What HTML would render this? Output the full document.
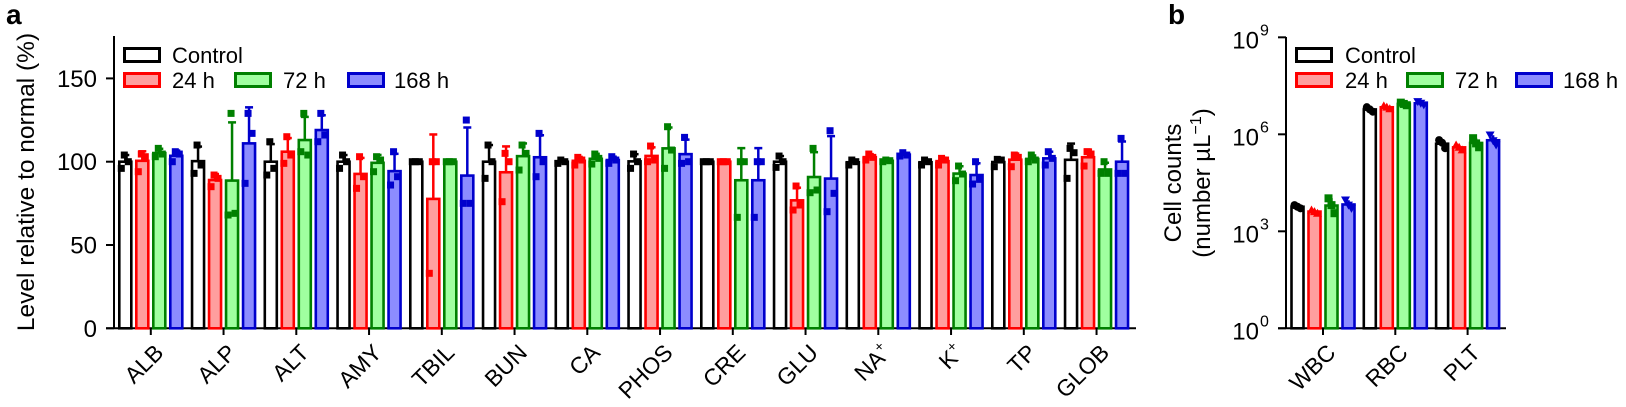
<!DOCTYPE html>
<html><head><meta charset="utf-8"><style>
html,body{margin:0;padding:0;background:#fff;}
svg{display:block;font-family:"Liberation Sans",Arial,sans-serif;}
</style></head><body>
<svg id="fig" width="1626" height="407" viewBox="0 0 1626 407" xmlns="http://www.w3.org/2000/svg">
<text x="6" y="24" font-size="28" font-weight="bold">a</text>
<text x="1168" y="24" font-size="28" font-weight="bold">b</text>
<g id="pa"></g>
<g id="pb"></g>
</svg>
<script>
// ---------- Panel a data ----------
const catsA = ["ALB","ALP","ALT","AMY","TBIL","BUN","CA","PHOS","CRE","GLU","NA+","K+","TP","GLOB"];
const ptsControl = [[104,100,96],[110,98,93],[112,96,92],[104,100,96],[100,100,100],[110,100,90],[101,100,99],[104.6,100,96],[100,100,100],[103.4,100,96.6],[101,100,98],[101,100,98],[101.4,101,97],[108,105.4,90]];
const pts24h = [[104.6,103,94],[92,90,85],[115,104,99],[103,91,84],[100,100,33],[105,100,76],[102.6,101,98],[109.4,101,100],[100,100,100],[85.4,74,71],[104.6,102.6,101],[102,101,98],[104,102.6,97],[106,104.6,97.4]];
const pts72h = [[108,104.6,103],[129,69,68],[129,104,106],[103,101,94],[100,100,100],[110,105,95],[104.6,102,98.6],[121,107,96],[100,100,66.6],[108,83,81.4],[101,100.6,100],[97.4,92.6,88.6],[104,101,100],[100,93,93]];
const pts168h = [[106,104.6,100],[129,117,87],[129,116,112],[106,91,86],[125,75,75],[117,100,91],[103,101,99],[114.6,100,99],[100,100,66.6],[118.6,81,70],[105.4,104,103.4],[100,89.4,86.6],[106,102,98],[114,93,93]];
const yTicksA = [0,50,100,150];
// ---------- Panel b data (log10 of cells per µL) ----------
const catsB = ["WBC","RBC","PLT"];
const ptsBControl = [[3.81,3.76,3.71],[6.84,6.77,6.70],[5.82,5.74,5.57]];
const ptsB24h = [[3.66,3.61,3.56],[6.88,6.84,6.79],[5.67,5.60,5.52]];
const ptsB72h = [[4.02,3.81,3.56],[6.98,6.94,6.90],[5.88,5.72,5.60]];
const ptsB168h = [[3.97,3.81,3.71],[7.01,6.96,6.91],[5.98,5.80,5.67]];
const yTicksB = [0,3,6,9];

const NS="http://www.w3.org/2000/svg";
const strokes=["#000000","#ff0000","#008000","#0000cc"];
const fills=["#ffffff","#ff9e9e","#a0ffa0","#8c8cff"];
const seriesA=[ptsControl,pts24h,pts72h,pts168h];
const seriesB=[ptsBControl,ptsB24h,ptsB72h,ptsB168h];
const offs=[-25.5,-8.5,8.5,25.5];
function mk(p,tag,at){const e=document.createElementNS(NS,tag);for(const k in at)e.setAttribute(k,at[k]);p.appendChild(e);return e;}
function mean(a){return a.reduce((s,v)=>s+v,0)/a.length;}
function sd(a){const m=mean(a);return Math.sqrt(a.reduce((s,v)=>s+(v-m)*(v-m),0)/(a.length-1));}

function drawLegend(g,x0,xt0,x72,xt72,x168,xt168){
  const items=[["Control",x0,xt0,47,0],["24 h",x0,xt0,72,1],["72 h",x72,xt72,72,2],["168 h",x168,xt168,72,3]];
  items.forEach(it=>{
    const r=mk(g,'rect',{x:it[1]+1.5,y:it[3]+1.5,width:35,height:13,fill:fills[it[4]],stroke:strokes[it[4]],'stroke-width':3});
    
    
    const t=mk(g,'text',{x:it[2],y:it[3]+16,'font-size':22});
    t.textContent=it[0];
    
    
  });
}

// ---------- Panel a ----------
(function(){
  const g=document.getElementById('pa');
  const y=v=>328.3-v*1.666;
  const x=i=>150.8+i*72.75;
  const ax=mk(g,'line',{x1:114,y1:36,x2:114,y2:329,stroke:'#000','stroke-width':2});
   
  const xa=mk(g,'line',{x1:106,y1:328.3,x2:1136,y2:328.3,stroke:'#000','stroke-width':2});
   
  yTicksA.forEach(v=>{
    const l=mk(g,'line',{x1:106,y1:y(v),x2:114,y2:y(v),stroke:'#000','stroke-width':2});
     
    const t=mk(g,'text',{x:97,y:y(v)+8.5,'font-size':24,'text-anchor':'end'});
    t.textContent=v;
     
  });
  const yt=mk(g,'text',{x:0,y:0,'font-size':24.5,'text-anchor':'middle',transform:'translate(34,182) rotate(-90)'});
  yt.textContent='Level relative to normal (%)';
   
  catsA.forEach((c,i)=>{
    const cx=x(i);
    const tk=mk(g,'line',{x1:cx,y1:328,x2:cx,y2:335,stroke:'#000','stroke-width':2});
     
    const t=mk(g,'text',{x:0,y:0,'font-size':23,'text-anchor':'end',transform:`translate(${cx+14},${354}) rotate(-45)`});
    if(c.endsWith('+')){t.textContent=c.slice(0,-1);const s=mk(t,'tspan',{'font-size':14,dy:-10});s.textContent='+';}
    else t.textContent=c;
     
    seriesA.forEach((ser,s)=>{
      const p=ser[i],m=mean(p),e=sd(p),bx=cx+offs[s];
      const top=y(m+e);
      const el=mk(g,'line',{x1:bx,y1:y(m),x2:bx,y2:top,stroke:strokes[s],'stroke-width':2.5});
       
      const cp=mk(g,'line',{x1:bx-4,y1:top,x2:bx+4,y2:top,stroke:strokes[s],'stroke-width':2.5});
       
      const b=mk(g,'rect',{x:bx-6,y:y(m),width:12,height:y(0)-y(m),fill:fills[s],stroke:strokes[s],'stroke-width':2.6});
      
      
      p.forEach((v,k)=>{
        const q=mk(g,'rect',{x:bx+[-1,3,-4][k]-3.5,y:y(v)-3.5,width:7,height:7,fill:strokes[s]});
         
      });
    });
  });
  drawLegend(g,123,172,234,283,347,394);
})();

// ---------- Panel b ----------
(function(){
  const g=document.getElementById('pb');
  const y=v=>328.3-v*32.33;
  const x=i=>1323+i*72.3;
  const ax=mk(g,'line',{x1:1286,y1:37,x2:1286,y2:329,stroke:'#000','stroke-width':2});
   
  const xa=mk(g,'line',{x1:1278,y1:328.3,x2:1506,y2:328.3,stroke:'#000','stroke-width':2});
   
  yTicksB.forEach(v=>{
    const l=mk(g,'line',{x1:1278,y1:y(v),x2:1286,y2:y(v),stroke:'#000','stroke-width':2});
     
    const t=mk(g,'text',{x:1259,y:y(v)+11,'font-size':24,'text-anchor':'end'});
    t.textContent='10';
    const s=mk(g,'text',{x:1260,y:y(v)-2,'font-size':16});
    s.textContent=v;
     
     
  });
  const t1=mk(g,'text',{x:0,y:0,'font-size':24,'text-anchor':'middle',transform:'translate(1181,183) rotate(-90)'});
  t1.textContent='Cell counts';
   
  const t2=mk(g,'text',{x:0,y:0,'font-size':24,'text-anchor':'middle',transform:'translate(1210,183) rotate(-90)'});
  t2.textContent='(number µL';
  const sp=mk(t2,'tspan',{'font-size':16,dy:-9});sp.textContent='−1';
  const sp2=mk(t2,'tspan',{dy:9});sp2.textContent=')';
   
  catsB.forEach((c,i)=>{
    const cx=x(i);
    const tk=mk(g,'line',{x1:cx,y1:328,x2:cx,y2:335,stroke:'#000','stroke-width':2});
     
    const t=mk(g,'text',{x:0,y:0,'font-size':23,'text-anchor':'end',transform:`translate(${cx+14},${354}) rotate(-45)`});
    t.textContent=c;
     
    seriesB.forEach((ser,s)=>{
      const p=ser[i],m=mean(p),e=sd(p),bx=cx+offs[s];
      const el=mk(g,'line',{x1:bx,y1:y(m),x2:bx,y2:y(m+e),stroke:strokes[s],'stroke-width':2.5});
       
      const b=mk(g,'rect',{x:bx-6,y:y(m),width:12,height:y(0)-y(m),fill:fills[s],stroke:strokes[s],'stroke-width':2.6});
      
      
      p.forEach((v,k)=>{
        const px=bx+[-3,0,3][k],py=y(v);
        let q;
        if(s===0) q=mk(g,'circle',{cx:px,cy:py,r:4,fill:strokes[s]});
        else if(s===1) q=mk(g,'polygon',{points:`${px-4.5},${py+3.5} ${px+4.5},${py+3.5} ${px},${py-4.5}`,fill:strokes[s]});
        else if(s===2) q=mk(g,'rect',{x:px-4,y:py-4,width:8,height:8,fill:strokes[s]});
        else q=mk(g,'polygon',{points:`${px-4.5},${py-3.5} ${px+4.5},${py-3.5} ${px},${py+4.5}`,fill:strokes[s]});
         
      });
    });
  });
  drawLegend(g,1295,1345,1406,1455,1515,1563);
})();
</script>
</body></html>
